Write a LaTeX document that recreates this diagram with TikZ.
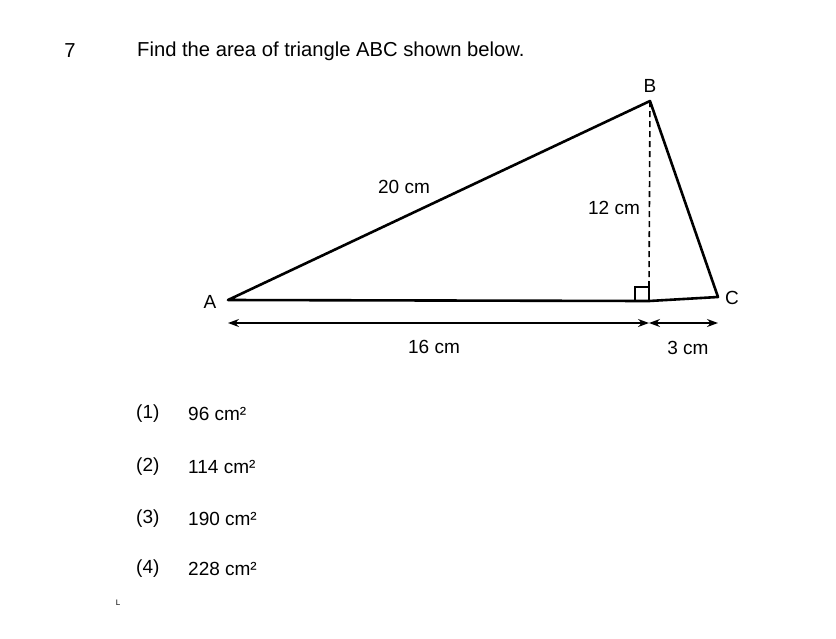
\documentclass[tikz,border=0pt]{standalone}
\usepackage{fontspec}
\setmainfont{Liberation Sans}
\usetikzlibrary{arrows.meta}
\begin{document}
\begin{tikzpicture}[x=1pt,y=-1pt,
  lbl/.style={inner sep=0pt, font=\fontsize{19}{22}\selectfont},
  ttl/.style={inner sep=0pt, font=\fontsize{20.2}{24}\selectfont},
  side/.style={line width=2.6pt, line join=round, line cap=round},
  dim/.style={line width=1.3pt, {Stealth[length=11pt,width=8pt]}-{Stealth[length=11pt,width=8pt]}}]
\useasboundingbox (0,0) rectangle (836,638);
% vertices
\coordinate (A) at (228,300);
\coordinate (B) at (650,101);
\coordinate (C) at (718,297);
\coordinate (D) at (649,301);
\coordinate (S1) at (635,301);
\coordinate (S2) at (635,287);
\coordinate (S3) at (649,287);
% triangle
\draw[side] (A) -- (B) -- (C) -- (D) -- cycle;
% height
\draw[line width=1.6pt, dash pattern=on 6pt off 4pt] (B) -- (S3);
\draw[line width=1.2pt] (S1) -- (S2) -- (S3) -- (D);
% dimension lines
\coordinate (L1) at (228,323);
\coordinate (M1) at (649,323);
\coordinate (R1) at (718,323);
\draw[dim] (L1) -- (M1);
\draw[dim] (M1) -- (R1);
% labels
\node[ttl] (qn) at (70,51) {7};
\node[ttl, anchor=west] (qt) at (137,51) {Find the area of triangle ABC shown below.};
\node[lbl] (la) at (210,302) {A};
\node[lbl] (lb) at (650,86) {B};
\node[lbl] (lc) at (732,298) {C};
\node[lbl] (l20) at (404,187) {20 cm};
\node[lbl] (l12) at (614,208) {12 cm};
\node[lbl] (l16) at (434,347) {16 cm};
\node[lbl] (l3) at (688,348) {3 cm};
% options
\foreach \n/\yy/\v in {1/414/96, 2/467/114, 3/519/190, 4/569/228}{
  \node[lbl, anchor=west] (o\n) at (136,\yy) {(\n)};
  \node[lbl, anchor=west] (v\n) at (188,\yy) {\v\ cm²};
}
\node[inner sep=0pt, font=\fontsize{8}{9}\selectfont] (mk) at (118,603) {L};
\end{tikzpicture}
\end{document}
